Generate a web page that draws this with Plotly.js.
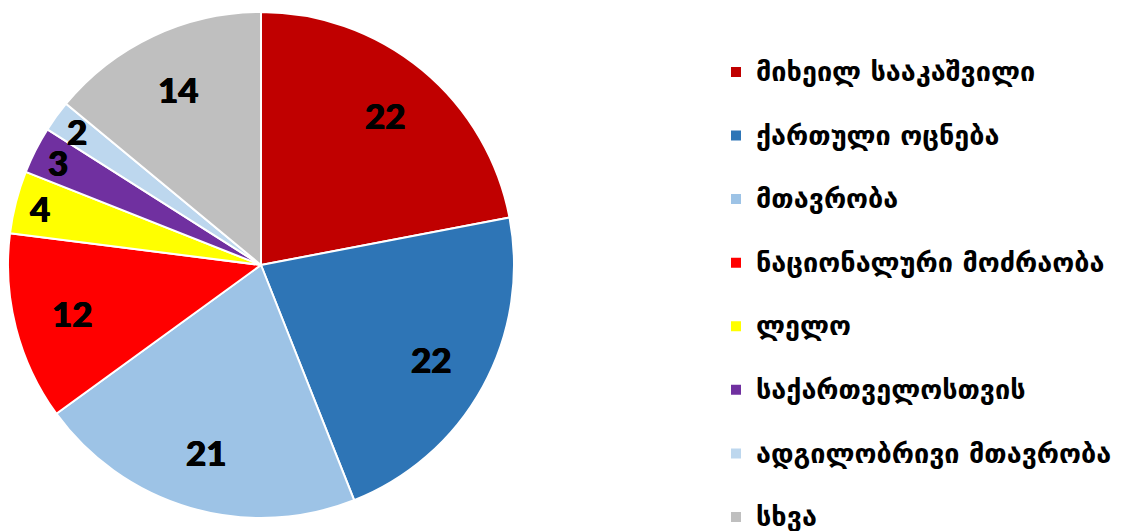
<!DOCTYPE html>
<html>
<head>
<meta charset="utf-8">
<script src="https://cdn.plot.ly/plotly-3.0.1.min.js"></script>
<style>html,body{margin:0;padding:0;background:#fff;}#chart{width:1124px;height:531px;}</style>
</head>
<body>
<div id="chart"></div>
<script>
const categories = [
  "მიხეილ სააკაშვილი",
  "ქართული ოცნება",
  "მთავრობა",
  "ნაციონალური მოძრაობა",
  "ლელო",
  "საქართველოსთვის",
  "ადგილობრივი მთავრობა",
  "სხვა"
];
const values = [22, 22, 21, 12, 4, 3, 2, 14];
const colors = ["#C00000", "#2E75B6", "#9DC3E6", "#FF0000", "#FFFF00", "#7030A0", "#BDD7EE", "#BFBFBF"];

const W = 1124, H = 531;
const pieX = [8 / W, 514 / W];
const pieY = [(H - 518) / H, (H - 12) / H];
const cx = (pieX[0] + pieX[1]) / 2, cy = (pieY[0] + pieY[1]) / 2;
const R = Math.min((pieX[1] - pieX[0]) * W, (pieY[1] - pieY[0]) * H) / 2;

const total = values.reduce((a, b) => a + b, 0);
let cum = 0;
const annotations = values.map(v => {
  const mid = (cum + v / 2) / total * 2 * Math.PI;
  cum += v;
  const rf = v >= 10 ? 0.77 : 0.9;
  return {
    x: cx + rf * R * Math.sin(mid) / W,
    y: cy + rf * R * Math.cos(mid) / H,
    xref: 'paper', yref: 'paper', showarrow: false,
    text: String(v),
    font: {family: 'Lato, "DejaVu Sans", sans-serif', size: 35, color: '#000', weight: 900,
           shadow: '0.5px 0 0 #000, -0.5px 0 0 #000'},
    xanchor: 'center', yanchor: 'middle'
  };
});

const trace = {
  type: 'pie',
  labels: categories.map(c => '\u00a0<br><span style="font-size:27px">' + c + '</span>'),
  values: values,
  sort: false,
  direction: 'clockwise',
  rotation: 0,
  marker: {colors: colors, line: {color: '#ffffff', width: 2}},
  textinfo: 'none',
  hoverinfo: 'none',
  domain: {x: pieX, y: pieY}
};

const layout = {
  width: W, height: H,
  margin: {l: 0, r: 0, t: 0, b: 0, pad: 0, autoexpand: false},
  paper_bgcolor: '#ffffff',
  showlegend: true,
  legend: {
    x: 716 / W, xanchor: 'left',
    y: 1 - 20 / H, yanchor: 'top',
    valign: 'bottom',
    font: {family: '"DejaVu Sans", sans-serif', size: 23.3, color: '#000', weight: 'bold'},
    bgcolor: 'rgba(0,0,0,0)',
    itemclick: false, itemdoubleclick: false
  },
  annotations: annotations
};

Plotly.newPlot('chart', [trace], layout, {staticPlot: true});
</script>
</body>
</html>
